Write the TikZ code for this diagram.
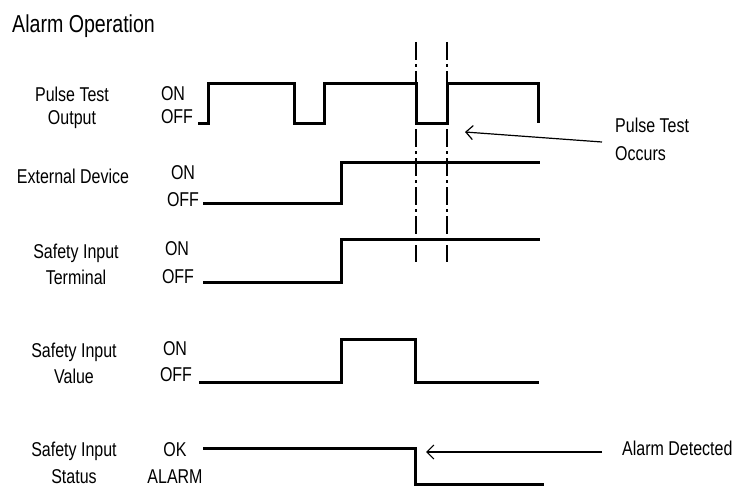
\documentclass[tikz,border=0pt]{standalone}
\usepackage{fontspec}
\setmainfont[FakeStretch=0.8]{Liberation Sans}
\usetikzlibrary{arrows.meta}
\begin{document}
\begin{tikzpicture}[x=1pt,y=-1pt,
  wave/.style={line width=3pt, line join=miter, line cap=butt},
  lbl/.style={font=\fontsize{20}{23}\selectfont, anchor=base, inner sep=0pt},
  guide/.style={line width=1.5pt, dash pattern=on 18pt off 4pt on 3pt off 4pt},
  callout/.style={line width=1.2pt, -{Straight Barb[length=7pt,width=14pt,line width=1.2pt]}}]
\useasboundingbox (0,0) rectangle (744,487);

% title
\node[lbl, anchor=base west, font=\fontsize{24.5}{28}\selectfont] (title) at (12,33) {Alarm Operation};

% row labels
\node[lbl] (pt1) at (72,101) {Pulse Test};
\node[lbl] (pt2) at (72,124) {Output};
\node[lbl] (pton) at (173,100) {ON};
\node[lbl] (ptoff) at (177,123) {OFF};

\node[lbl] (ed1) at (73,183) {External Device};
\node[lbl] (edon) at (183,179) {ON};
\node[lbl] (edoff) at (183,206) {OFF};

\node[lbl] (st1) at (76,258) {Safety Input};
\node[lbl] (st2) at (76,284) {Terminal};
\node[lbl] (ston) at (177,255) {ON};
\node[lbl] (stoff) at (178,283) {OFF};

\node[lbl] (sv1) at (74,357) {Safety Input};
\node[lbl] (sv2) at (74,383) {Value};
\node[lbl] (svon) at (175,355) {ON};
\node[lbl] (svoff) at (176,381) {OFF};

\node[lbl] (ss1) at (74,456) {Safety Input};
\node[lbl] (ss2) at (74,483) {Status};
\node[lbl] (ssok) at (175,456) {OK};
\node[lbl] (ssal) at (175,483) {ALARM};

% guide lines
\draw[guide] (416,42) -- (416,262);
\draw[guide] (447,42) -- (447,262);

% waveforms
\draw[wave] (198,123) -- (208,123) -- (208,83) -- (294,83) -- (294,123) -- (324,123)
  -- (324,83) -- (416,83) -- (416,123) -- (447,123) -- (447,83) -- (538,83) -- (538,123);
\draw[wave] (203,203) -- (341,203) -- (341,162) -- (540,162);
\draw[wave] (203,282) -- (341,282) -- (341,239) -- (540,239);
\draw[wave] (199,382) -- (341,382) -- (341,339) -- (415,339) -- (415,382) -- (539,382);
\draw[wave] (203,448) -- (415,448) -- (415,484) -- (544,484);

% callouts
\node[lbl, anchor=base west] (occ1) at (615,132) {Pulse Test};
\node[lbl, anchor=base west] (occ2) at (615,160) {Occurs};
\coordinate (tip1) at (465,132);
\draw[callout] ([xshift=-13pt,yshift=-10pt]occ1.base west) -- (tip1);

\node[lbl, anchor=base west] (alarm) at (622,455) {Alarm Detected};
\coordinate (tip2) at (426,452);
\draw[callout] ([xshift=-20pt,yshift=3pt]alarm.base west) -- (tip2);
\end{tikzpicture}
\end{document}
